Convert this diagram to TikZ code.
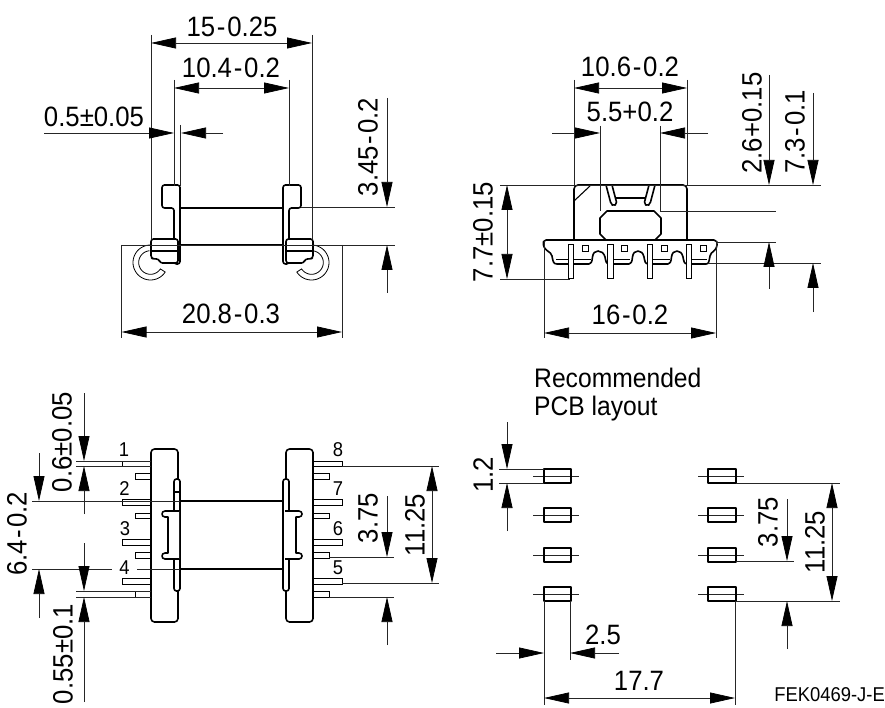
\documentclass[tikz,border=0pt]{standalone}
\usepackage{fontspec}
\setmainfont[FakeStretch=0.92]{Liberation Sans}
\usetikzlibrary{arrows.meta}
\newcommand{\mn}{\kern1.8pt-\kern1.8pt}
\tikzset{
  x=1pt,y=-1pt,
  part/.style={line width=1.6pt,line join=round},
  fine/.style={line width=0.8pt},
  pin/.style={line width=1pt,fill=white},
  extl/.style={line width=0.75pt,black!85},
  dimm/.style={line width=0.75pt,black!85,-{Triangle[length=25pt,width=11pt,color=black]}},
  dimb/.style={line width=0.75pt,black!85,{Triangle[length=25pt,width=11pt,color=black]}-{Triangle[length=25pt,width=11pt,color=black]}},
  big/.style={inner sep=0pt,font=\fontsize{28}{28}\selectfont},
  bigv/.style={big,rotate=90},
  pno/.style={inner sep=0pt,font=\fontsize{20}{20}\selectfont},
  note/.style={inner sep=0pt,font=\fontsize{26.8}{26.8}\selectfont,anchor=west},
}
\begin{document}
\begin{tikzpicture}
\useasboundingbox (0,0) rectangle (885,708);
\fill[white] (0,0) rectangle (885,708);

% ---- top-left view: part
\foreach \c/\s in {150.5/1,311.5/-1}{
  \draw[fine] plot[domain=90:327,samples=40] ({\c+\s*17.5*cos(\x)},{262.5-17.5*sin(\x)})
     -- plot[domain=327:95,samples=40] ({\c+\s*11.8*cos(\x)},{262.5-11.8*sin(\x)});
}
\draw[part] (180,208)--(283,208) (180,245)--(283,245);
\draw[part,rounded corners=2.5pt,fill=white] (174,208)--(162,208)--(162,185)--(180,185)--(180,264)--(174,264)--cycle;
\draw[part,rounded corners=2.5pt,fill=white] (151,258)--(151,239)--(178,239)--(178,263)--(160,263)--(159,259)--(154,259)--cycle;
\draw[part,line width=1.2pt] (151,251)--(178,251);
\draw[part,rounded corners=2.5pt,fill=white] (289,208)--(301,208)--(301,185)--(283,185)--(283,264)--(289,264)--cycle;
\draw[part,rounded corners=2.5pt,fill=white] (313,258)--(313,239)--(286,239)--(286,263)--(304,263)--(305,259)--(310,259)--cycle;
\draw[part,line width=1.2pt] (286,251)--(313,251);

% ---- top-left view: dimensions
\draw[extl] (151,35)--(151,240) (312,35)--(312,240) (174,80)--(174,186) (289,80)--(289,186) (180,125)--(180,186);
\draw[dimb] (151,43)--(312,43);
\draw[dimb] (174,88)--(289,88);
\draw[dimm] (44,133)--(174,133);
\draw[dimm] (223,133)--(181,133);
\draw[extl] (301,207)--(395,207) (122,245)--(342,245) (342,245)--(395,245);
\draw[extl] (121.5,245)--(121.5,338) (342,245)--(342,338);
\draw[dimb] (121.5,332)--(342,332);
\draw[dimm] (387,98)--(387,207);
\draw[dimm] (387,293)--(387,245);
\node[big] (a1) at (232,27) {15\mn 0.25};
\node[big] (a2) at (231,68) {10.4\mn 0.2};
\node[big] (a3) at (94,117) {0.5±0.05};
\node[big] (a4) at (231,314) {20.8\mn 0.3};
\node[bigv] (a5) at (368,147) {3.45\mn 0.2};

% ---- top-right view: part
\draw[part,rounded corners=4pt] (574,241)--(574,185)--(687,185)--(687,241);
\draw[line width=1.1pt] (574,201)--(590,186);
\draw[part,rounded corners=2pt] (606,185)--(611,204)--(613.5,206)--(617,204)--(612,185);
\draw[part,rounded corners=2pt] (655,185)--(650,204)--(647.5,206)--(644,204)--(649,185);
\draw[part] (616,198)--(645,198);
\draw[part] (607,211)--(654,211)--(661,218)--(661,234)--(654,241)--(607,241)--(600,234)--(600,218)--cycle;
\draw[part,fill=white] (546,240)--(714,240) .. controls (717,240) and (717.5,243) .. (717,245)
  .. controls (716,252) and (711,251) .. (710,256) .. controls (709,261) and (709,264) .. (706,264)
  --(688,264) .. controls (684,264) and (684,262) .. (683,257) .. controls (682,253) and (680,251) .. (677,251)
  .. controls (674,251) and (672,253) .. (671.5,257) .. controls (671,262) and (670,264) .. (668,264)
  --(649,264) .. controls (645,264) and (645,262) .. (644,257) .. controls (643,253) and (641,251) .. (638,251)
  .. controls (635,251) and (633,253) .. (632.5,257) .. controls (632,262) and (631,264) .. (629,264)
  --(610,264) .. controls (606,264) and (606,262) .. (605,257) .. controls (604,253) and (601,251) .. (598,251)
  .. controls (595,251) and (593,253) .. (592.5,257) .. controls (592,262) and (591,264) .. (589,264)
  --(557,264) .. controls (553,264) and (553,261) .. (552,256) .. controls (551,251) and (545,252) .. (543.5,245)
  .. controls (543,243) and (543,240) .. (546,240) -- cycle;
\draw[line width=1pt] (556,260)--(591,260) (607,260)--(630,260) (647,260)--(670,260) (686,260)--(707,260);
\foreach \p in {568,607.5,647,686}{
  \draw[pin] (\p,245) rectangle (\p+5.5,278.5);
}
\foreach \p in {582,621.5,661,700}{
  \draw[line width=0.9pt] (\p,245) rectangle (\p+6,251);
}

% ---- top-right view: dimensions
\draw[extl] (574,80)--(574,186) (687,80)--(687,186) (600,126)--(600,211) (660,126)--(660,211);
\draw[dimb] (574,88)--(687,88);
\draw[dimm] (552,133)--(600,133);
\draw[dimm] (708,133)--(660,133);
\draw[extl] (500,185)--(821,185) (500,279)--(570,279);
\draw[dimb] (507,185)--(507,279);
\draw[extl] (544,241)--(544,338) (716,241)--(716,338);
\draw[dimb] (544,333)--(716,333);
\draw[extl] (660,211)--(776,211) (716,242)--(776,242) (708,263)--(821,263);
\draw[dimm] (769,75)--(769,185);
\draw[dimm] (769,289)--(769,242);
\draw[dimm] (813,93)--(813,185);
\draw[dimm] (813,312)--(813,263);
\node[big] (b1) at (630,67) {10.6\mn 0.2};
\node[big] (b2) at (630,112) {5.5+0.2};
\node[big] (b3) at (630,315) {16\mn 0.2};
\node[bigv] (b4) at (483,232) {7.7±0.15};
\node[bigv] (b5) at (752,123) {2.6+0.15};
\node[bigv] (b6) at (795,132) {7.3\mn 0.1};

% ---- bottom-left view: pins
\foreach \a/\b in {461/466,499.5/505,539/545,578/584}{
  \draw[pin] (122,\a) rectangle (151,\b);
  \draw[pin] (313,\a) rectangle (342,\b);
}
\foreach \a/\b in {473/479,513/518,552/558,591/597}{
  \draw[pin] (135,\a) rectangle (151,\b);
  \draw[pin] (313,\a) rectangle (329,\b);
}
% ---- bottom-left view: part
\draw[part,rounded corners=3.5pt,fill=white] (151,449) rectangle (178,622);
\draw[part,rounded corners=3.5pt,fill=white] (286,449) rectangle (313,622);
\draw[part] (180,501)--(283,501) (180,569)--(283,569);
\draw[part,rounded corners=2.5pt,fill=white] (174,479) rectangle (180,591);
\draw[part,rounded corners=2.5pt,fill=white] (283,479) rectangle (289,591);
\draw[line width=1.1pt] (174,492)--(180,492);
\draw[part,fill=white] (179,511)--(165,511) .. controls (161,511) and (161,517) .. (165,517) --(168,517)--(168,553)--(165,553) .. controls (161,553) and (161,559) .. (165,559) --(179,559);
\draw[part,fill=white] (285,511)--(299,511) .. controls (303,511) and (303,517) .. (299,517) --(296,517)--(296,553)--(299,553) .. controls (303,553) and (303,559) .. (299,559) --(285,559);
\node[pno] (n1) at (124,450) {1};
\node[pno] (n2) at (124.5,489) {2};
\node[pno] (n3) at (125,529) {3};
\node[pno] (n4) at (124.5,568) {4};
\node[pno] (n8) at (338,450) {8};
\node[pno] (n7) at (338,489) {7};
\node[pno] (n6) at (338,529) {6};
\node[pno] (n5) at (338,568) {5};

% ---- bottom-left view: dimensions
\draw[extl] (76,461)--(151,461) (76,466)--(151,466) (76,591)--(151,591) (76,597)--(151,597);
\draw[extl] (32,501)--(180,501) (32,569)--(112,569) (137,569)--(180,569);
\draw[dimm] (84,393)--(84,461);
\draw[dimm] (84,514)--(84,466);
\draw[dimm] (84,543)--(84,591);
\draw[dimm] (84,702)--(84,597);
\draw[dimm] (39,453)--(39,501);
\draw[dimm] (39,618)--(39,569);
\draw[extl] (329,557)--(394,557) (329,597)--(394,597) (342,466)--(439,466) (342,583)--(439,583);
\draw[dimm] (387,496)--(387,557);
\draw[dimm] (387,645)--(387,597);
\draw[dimb] (432,466)--(432,583);
\node[bigv] (c1) at (62,442) {0.6±0.05};
\node[bigv] (c2) at (63,654) {0.55±0.1};
\node[bigv] (c3) at (17,534) {6.4\mn 0.2};
\node[bigv] (c4) at (368,518) {3.75};
\node[bigv] (c5) at (415,525) {11.25};

% ---- bottom-right: pads
\foreach \yc in {476,515,555,594}{
  \draw[extl] (533,\yc)--(579,\yc) (698,\yc)--(744,\yc);
  \draw[part] (544,\yc-7) rectangle (571,\yc+7);
  \draw[part] (708,\yc-7) rectangle (736,\yc+7);
}
\draw[extl] (499,469)--(544,469) (499,483)--(544,483);
\draw[dimm] (507,422)--(507,469);
\draw[dimm] (507,531)--(507,483);
\draw[extl] (736,483)--(840,483) (736,561)--(794,561) (736,601)--(840,601);
\draw[dimb] (832,483)--(832,601);
\draw[dimm] (787,499)--(787,561);
\draw[dimm] (787,649)--(787,601);
\draw[extl] (544,601)--(544,705) (570,601)--(570,660) (735,601)--(735,705);
\draw[dimm] (496,653)--(544,653);
\draw[dimm] (619,653)--(570,653);
\draw[dimb] (544,698)--(735,698);
\node[bigv] (d1) at (483,475) {1.2};
\node[bigv] (d2) at (768,522) {3.75};
\node[bigv] (d3) at (815,542) {11.25};
\node[big] (d4) at (603,635) {2.5};
\node[big] (d5) at (639,681) {17.7};
\node[note] (r1) at (534,378) {Recommended};
\node[note] (r2) at (534,409) {PCB layout};
\node[inner sep=0pt,font=\fontsize{20}{20}\selectfont,anchor=east] (fig) at (885,695) {FEK0469-J-E};
\end{tikzpicture}
\end{document}
